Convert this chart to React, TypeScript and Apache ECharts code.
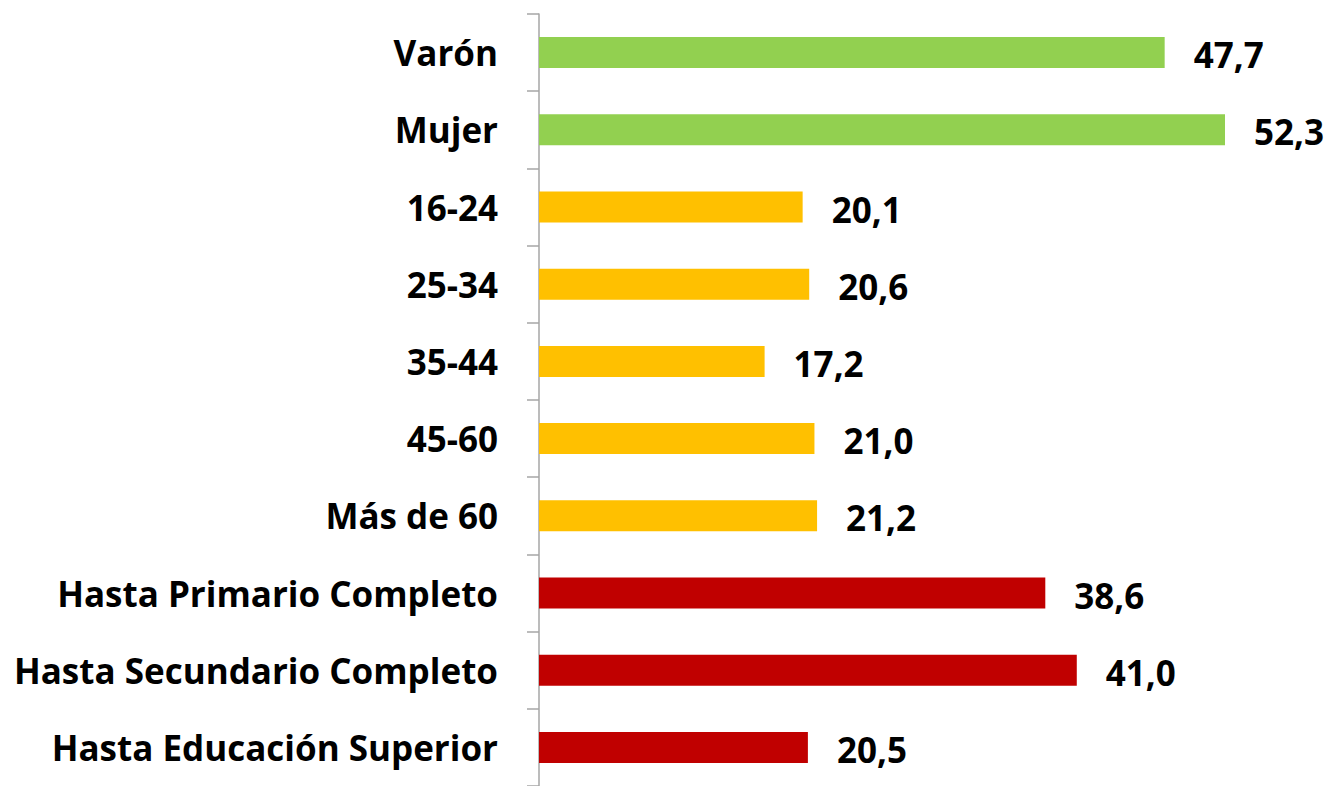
import React, { useEffect, useRef } from "react";
import * as echarts from "echarts";

const categories = [
  "Varón",
  "Mujer",
  "16-24",
  "25-34",
  "35-44",
  "45-60",
  "Más de 60",
  "Hasta Primario Completo",
  "Hasta Secundario Completo",
  "Hasta Educación Superior",
];
const values = [47.7, 52.3, 20.1, 20.6, 17.2, 21.0, 21.2, 38.6, 41.0, 20.5];
const groups = ["sexo", "sexo", "edad", "edad", "edad", "edad", "edad", "edu", "edu", "edu"];
const groupColors: Record<string, string> = {
  sexo: "#92D050",
  edad: "#FFC000",
  edu: "#C00000",
};

const FONT = "'Open Sans', sans-serif";

export default function App() {
  const ref = useRef<HTMLDivElement>(null);
  useEffect(() => {
    if (!ref.current) return;
    const chart = echarts.init(ref.current, null, { renderer: "svg" });
    chart.setOption({
      animation: false,
      grid: { left: 539, width: 788, top: 14, bottom: -4, containLabel: false },
      xAxis: {
        type: "value",
        min: 0,
        max: 60,
        show: false,
      },
      yAxis: {
        type: "category",
        data: categories,
        inverse: true,
        axisLine: { show: true, lineStyle: { color: "#A6A6A6", width: 1.5 } },
        axisTick: { show: true, length: 12, lineStyle: { color: "#A6A6A6", width: 1.5 } },
        axisLabel: {
          margin: 41,
          color: "#000",
          fontFamily: FONT,
          fontWeight: "bold",
          fontSize: 35,
        },
      },
      series: [
        {
          type: "bar",
          barWidth: 31,
          data: values.map((v, i) => ({
            value: v,
            itemStyle: { color: groupColors[groups[i]] },
          })),
          label: {
            show: true,
            position: "right",
            distance: 29,
            color: "#000",
            fontFamily: FONT,
            fontWeight: "bold",
            fontSize: 35,
            offset: [0, 2],
            formatter: (p: any) => p.value.toFixed(1).replace(".", ","),
          },
        },
      ],
    });
    return () => chart.dispose();
  }, []);
  return (
    <div
      ref={ref}
      style={{ position: "fixed", left: 0, top: 0, width: 1326, height: 786, background: "#fff" }}
    />
  );
}
